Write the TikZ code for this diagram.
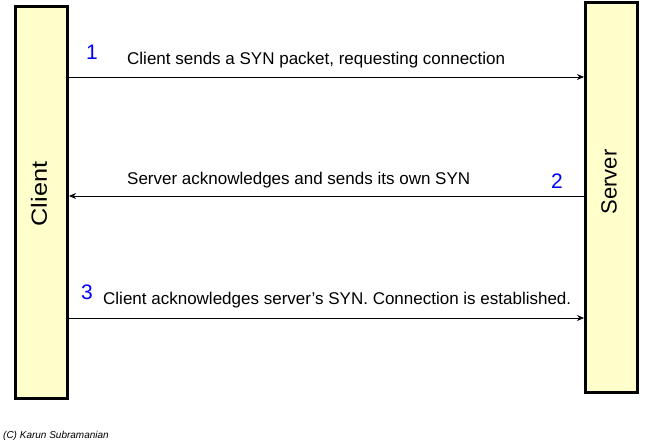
\documentclass[tikz,border=0pt]{standalone}
\usepackage{fontspec}
\setmainfont{Liberation Sans}
\usetikzlibrary{arrows.meta}
\begin{document}
\begin{tikzpicture}[x=1pt,y=1pt,
  host/.style={draw=black,line width=3pt,fill={rgb,255:red,255;green,255;blue,204},inner sep=0pt},
  hostlabel/.style={rotate=90,font=\fontsize{22}{26}\selectfont},
  msg/.style={-{Stealth[length=7pt,width=6pt]},line width=0.8pt,black},
  msglabel/.style={font=\fontsize{17}{20}\selectfont,anchor=base west,inner sep=0pt},
  num/.style={font=\fontsize{21}{25}\selectfont,text={rgb,255:red,0;green,0;blue,255},anchor=base west,inner sep=0pt}]
\useasboundingbox (0,0) rectangle (656,447);
\fill[white] (0,0) rectangle (656,447);
\node[host,minimum width=52pt,minimum height=392pt,anchor=north west] (client) at (14,442) {};
\node[host,minimum width=52pt,minimum height=390pt,anchor=north west] (server) at (584,446) {};
\node[hostlabel] (clientlbl) at (39,253) {\scalebox{1.15}[1]{Client}};
\node[hostlabel] (serverlbl) at (609,265) {Server};
% arrow 1
\coordinate (a1s) at (client.east |- 0,370);
\coordinate (a1e) at (server.west |- 0,370);
\draw[msg] (a1s) -- (a1e);
\node[num] (n1) at (86,387) {1};
\node[msglabel] (l1) at (127,382) {Client sends a SYN packet, requesting connection};
% arrow 2
\coordinate (a2s) at (server.west |- 0,251);
\coordinate (a2e) at (client.east |- 0,251);
\draw[msg] (a2s) -- (a2e);
\node[num] (n2) at (551,258) {2};
\node[msglabel] (l2) at (127,262) {Server acknowledges and sends its own SYN};
% arrow 3
\coordinate (a3s) at (client.east |- 0,129);
\coordinate (a3e) at (server.west |- 0,129);
\draw[msg] (a3s) -- (a3e);
\node[num] (n3) at (81,147) {3};
\node[msglabel] (l3) at (103,142) {Client acknowledges server{\char"0027}s SYN. Connection is established.};
\node[font=\fontsize{10}{12}\selectfont\itshape,anchor=west,inner sep=0pt] (copy) at (3,11) {(C) Karun Subramanian};
\end{tikzpicture}
\end{document}
